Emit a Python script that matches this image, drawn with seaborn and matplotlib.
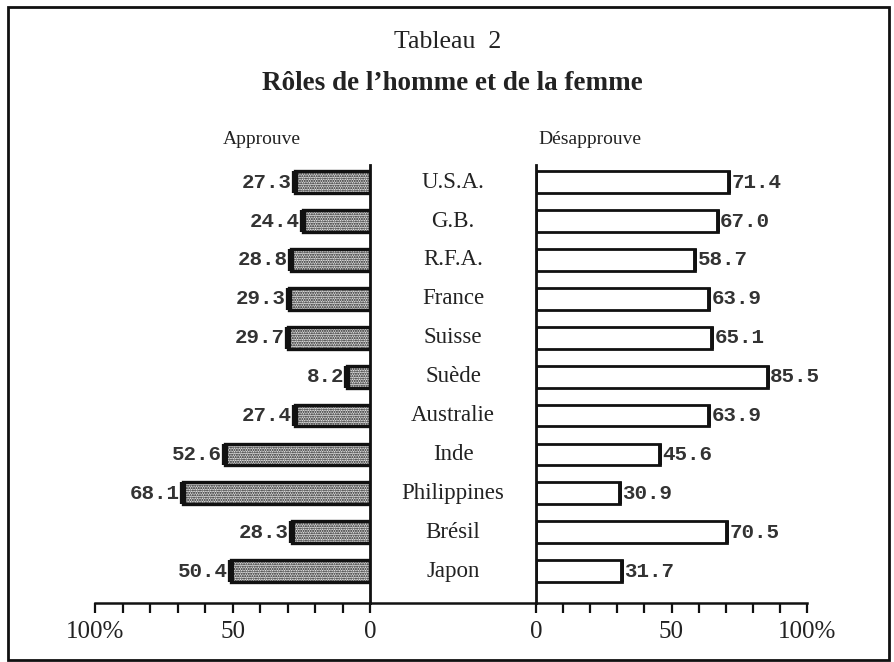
import matplotlib
matplotlib.use("Agg")
import matplotlib.pyplot as plt
import seaborn as sns
import pandas as pd
from matplotlib.lines import Line2D
from matplotlib.patches import Rectangle
from matplotlib.ticker import MultipleLocator

pays = ['U.S.A.', 'G.B.', 'R.F.A.', 'France', 'Suisse', 'Suède',
        'Australie', 'Inde', 'Philippines', 'Brésil', 'Japon']
approuve = [27.3, 24.4, 28.8, 29.3, 29.7, 8.2, 27.4, 52.6, 68.1, 28.3, 50.4]
desapprouve = [71.4, 67.0, 58.7, 63.9, 65.1, 85.5, 63.9, 45.6, 30.9, 70.5, 31.7]

df = pd.DataFrame({'pays': pays, 'approuve': approuve, 'desapprouve': desapprouve})

sns.set_style('white')
plt.rcParams['font.family'] = ['Liberation Serif', 'DejaVu Serif']
plt.rcParams['hatch.color'] = '#666666'
plt.rcParams['hatch.linewidth'] = 1.0

W, H = 894, 662
fig = plt.figure(figsize=(W / 100, H / 100), dpi=100)
fig.patch.set_facecolor('white')

def fx(px):
    return px / W

def fy(py):
    return (H - py) / H

y_top, y_bot = 165, 603
ax_l = fig.add_axes([fx(95), fy(y_bot), fx(370 - 95), fy(y_top) - fy(y_bot)])
ax_r = fig.add_axes([fx(536), fy(y_bot), fx(807 - 536), fy(y_top) - fy(y_bot)])

bar_w = 0.56
lows = [i - bar_w / 2 for i in range(len(pays))]
highs = [i + bar_w / 2 for i in range(len(pays))]

sns.barplot(data=df, y='pays', x='approuve', orient='h', ax=ax_l,
            color='#e4e4e4', width=bar_w, edgecolor='#111111', linewidth=2.4)
for p in ax_l.patches:
    p.set_hatch('.......')
# heavy shadowed end of the stippled bars
ax_l.vlines(approuve, lows, highs, color='#111111', lw=4.5, capstyle='butt')

sns.barplot(data=df, y='pays', x='desapprouve', orient='h', ax=ax_r,
            color='white', width=bar_w, edgecolor='#111111', linewidth=2.0)
ax_r.vlines(desapprouve, lows, highs, color='#111111', lw=2.8, capstyle='butt')

mono = ['Liberation Mono', 'DejaVu Sans Mono']
for i, v in enumerate(approuve):
    ax_l.text(v + 1.2, i, f'{v:.1f}', ha='right', va='center', fontsize=15,
              family=mono, fontweight='bold', color='#333333')
for i, v in enumerate(desapprouve):
    ax_r.text(v + 0.9, i, f'{v:.1f}', ha='left', va='center', fontsize=15,
              family=mono, fontweight='bold', color='#333333')

for ax in (ax_l, ax_r):
    ax.set_xlim(0, 100)
    ax.set_ylim(10.82, -0.44)
    ax.set_ylabel('')
    ax.set_xlabel('')
    ax.set_yticks([])
    ax.set_facecolor('none')
    ax.spines['top'].set_visible(False)
    ax.spines['bottom'].set_linewidth(1.8)
    ax.spines['bottom'].set_color('#111111')
    ax.xaxis.set_major_locator(MultipleLocator(50))
    ax.xaxis.set_minor_locator(MultipleLocator(10))
    ax.tick_params(axis='x', which='both', direction='out', length=7, width=1.6,
                   color='#111111', bottom=True, labelsize=18, pad=6,
                   labelcolor='#222222')
    ax.set_xticks([0, 50, 100])
    ax.set_xticklabels(['0', '50', '100%'])

ax_l.invert_xaxis()
ax_l.spines['left'].set_visible(False)
ax_l.spines['right'].set_linewidth(2)
ax_l.spines['right'].set_color('#111111')
ax_r.spines['right'].set_visible(False)
ax_r.spines['left'].set_linewidth(2)
ax_r.spines['left'].set_color('#111111')

# axis line between the two panels
fig.add_artist(Line2D([fx(370), fx(536)], [fy(y_bot), fy(y_bot)],
                      color='#111111', lw=1.8))

# country labels in the middle
for i, name in enumerate(pays):
    yy = y_top + (i + 0.44) * (y_bot - y_top) / 11.26
    fig.text(fx(453), fy(yy), name, ha='center', va='center', fontsize=16.5,
             color='#222222')

fig.text(fx(262), fy(139), 'Approuve', ha='center', va='center', fontsize=14,
         color='#222222')
fig.text(fx(590), fy(139), 'Désapprouve', ha='center', va='center', fontsize=14,
         color='#222222')

fig.text(fx(448), fy(42), 'Tableau  2', ha='center', va='center', fontsize=18.5,
         color='#222222')
fig.text(fx(452), fy(84), 'Rôles de l\u2019homme et de la femme', ha='center',
         va='center', fontsize=19.5, fontweight='bold', color='#222222')

# frame of the scanned page
fig.add_artist(Rectangle((fx(8), fy(660)), fx(889 - 8), fy(7) - fy(660),
                         fill=False, edgecolor='#111111', lw=2))

fig.savefig('out.png', dpi=100, facecolor='white')
